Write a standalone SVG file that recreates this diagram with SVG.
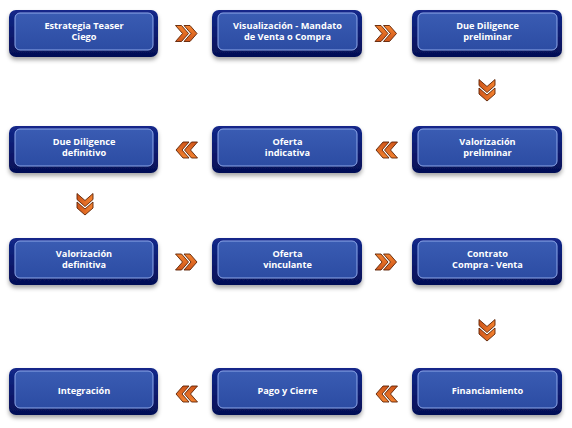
<svg xmlns="http://www.w3.org/2000/svg" width="572" height="428" viewBox="0 0 572 428">
<defs>
<linearGradient id="outerG" x1="0" y1="0" x2="0" y2="1">
<stop offset="0" stop-color="#13288a"/>
<stop offset="1" stop-color="#050f55"/>
</linearGradient>
<linearGradient id="innerG" x1="0" y1="0" x2="0" y2="1">
<stop offset="0" stop-color="#3a5cb3"/>
<stop offset="1" stop-color="#2c4ca3"/>
</linearGradient>
<linearGradient id="chevG" x1="0" y1="0" x2="0" y2="1">
<stop offset="0" stop-color="#f3822f"/>
<stop offset="1" stop-color="#d0561a"/>
</linearGradient>
<filter id="sh" x="-10%" y="-20%" width="120%" height="150%">
<feDropShadow dx="0" dy="3" stdDeviation="2" flood-color="#000" flood-opacity="0.35"/>
</filter>
<g id="chev">
<path d="M-11.5,-8 L-5.5,-8 L1.5,0 L-5.5,8 L-11.5,8 L-4.5,0 Z"/>
<path d="M-3,-8 L3,-8 L10,0 L3,8 L-3,8 L4,0 Z"/>
</g>
</defs>
<style>
.outer{fill:url(#outerG);filter:url(#sh)}
.inner{fill:url(#innerG);stroke:#8ea8ea;stroke-width:1}
.lbl{font-family:"Open Sans","Liberation Sans",Arial,sans-serif;font-weight:bold;font-size:9.2px;fill:#ffffff;text-anchor:middle}
.arr use{fill:url(#chevG);stroke:#5e2204;stroke-width:0.9;stroke-linejoin:round}
</style>
<rect width="572" height="428" fill="#ffffff"/>

<g id="n1"><rect class="outer" x="9" y="10" width="149" height="47" rx="7"/><rect class="inner" x="15" y="13" width="138" height="37" rx="5"/><text class="lbl" x="84" y="28.5">Estrategia Teaser</text><text class="lbl" x="84" y="39.5">Ciego</text></g>
<g id="n2"><rect class="outer" x="212" y="10" width="150" height="47" rx="7"/><rect class="inner" x="218" y="13" width="139" height="37" rx="5"/><text class="lbl" x="287.5" y="28.5">Visualización - Mandato</text><text class="lbl" x="287.5" y="39.5">de Venta o Compra</text></g>
<g id="n3"><rect class="outer" x="412" y="10" width="150" height="47" rx="7"/><rect class="inner" x="418" y="13" width="139" height="37" rx="5"/><text class="lbl" x="487.5" y="28.5">Due Diligence</text><text class="lbl" x="487.5" y="39.5">preliminar</text></g>

<g id="n4"><rect class="outer" x="412" y="126" width="150" height="47" rx="7"/><rect class="inner" x="418" y="129" width="139" height="37" rx="5"/><text class="lbl" x="487.5" y="144.5">Valorización</text><text class="lbl" x="487.5" y="155.5">preliminar</text></g>
<g id="n5"><rect class="outer" x="212" y="126" width="150" height="47" rx="7"/><rect class="inner" x="218" y="129" width="139" height="37" rx="5"/><text class="lbl" x="287.5" y="144.5">Oferta</text><text class="lbl" x="287.5" y="155.5">indicativa</text></g>
<g id="n6"><rect class="outer" x="9" y="126" width="149" height="47" rx="7"/><rect class="inner" x="15" y="129" width="138" height="37" rx="5"/><text class="lbl" x="84" y="144.5">Due Diligence</text><text class="lbl" x="84" y="155.5">definitivo</text></g>

<g id="n7"><rect class="outer" x="9" y="238" width="149" height="47" rx="7"/><rect class="inner" x="15" y="241" width="138" height="37" rx="5"/><text class="lbl" x="84" y="256.5">Valorización</text><text class="lbl" x="84" y="267.5">definitiva</text></g>
<g id="n8"><rect class="outer" x="212" y="238" width="150" height="47" rx="7"/><rect class="inner" x="218" y="241" width="139" height="37" rx="5"/><text class="lbl" x="287.5" y="256.5">Oferta</text><text class="lbl" x="287.5" y="267.5">vinculante</text></g>
<g id="n9"><rect class="outer" x="412" y="238" width="150" height="47" rx="7"/><rect class="inner" x="418" y="241" width="139" height="37" rx="5"/><text class="lbl" x="487.5" y="256.5">Contrato</text><text class="lbl" x="487.5" y="267.5">Compra - Venta</text></g>

<g id="n10"><rect class="outer" x="412" y="368" width="150" height="47" rx="7"/><rect class="inner" x="418" y="371" width="139" height="37" rx="5"/><text class="lbl" x="487.5" y="393.5">Financiamiento</text></g>
<g id="n11"><rect class="outer" x="212" y="368" width="150" height="47" rx="7"/><rect class="inner" x="218" y="371" width="139" height="37" rx="5"/><text class="lbl" x="287.5" y="393.5">Pago y Cierre</text></g>
<g id="n12"><rect class="outer" x="9" y="368" width="149" height="47" rx="7"/><rect class="inner" x="15" y="371" width="138" height="37" rx="5"/><text class="lbl" x="84" y="393.5">Integración</text></g>

<g id="connectors" class="arr">
<use href="#chev" transform="translate(187,33.5)"/>
<use href="#chev" transform="translate(386.5,33.5)"/>
<use href="#chev" transform="translate(487,91) rotate(90)"/>
<use href="#chev" transform="translate(186,150) rotate(180)"/>
<use href="#chev" transform="translate(386,150) rotate(180)"/>
<use href="#chev" transform="translate(85,205) rotate(90)"/>
<use href="#chev" transform="translate(187,262)"/>
<use href="#chev" transform="translate(386.5,262)"/>
<use href="#chev" transform="translate(487,331) rotate(90)"/>
<use href="#chev" transform="translate(186,394) rotate(180)"/>
<use href="#chev" transform="translate(386,394) rotate(180)"/>
</g>
</svg>
